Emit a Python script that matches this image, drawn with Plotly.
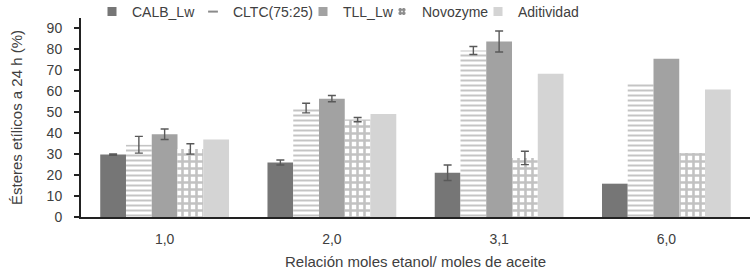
import plotly.graph_objects as go

categories = ["1,0", "2,0", "3,1", "6,0"]
series_names = ["CALB_Lw", "CLTC(75:25)", "TLL_Lw", "Novozyme", "Aditividad"]
calb = [29.8, 26.0, 21.1, 15.9]
cltc = [34.5, 52.0, 79.5, 64.2]
tll = [39.5, 56.5, 83.8, 75.5]
novo = [32.5, 46.5, 28.2, 30.5]
aditiv = [37.0, 49.2, 68.4, 60.9]
# error bars exist only for the first three categories
err_categories = ["1,0", "2,0", "3,1"]
calb_err = [0.3, 1.2, 3.7]
cltc_err = [4.0, 2.3, 1.9]
tll_err = [2.5, 1.5, 5.0]
novo_err = [2.5, 1.0, 3.2]
y_ticks = [0, 10, 20, 30, 40, 50, 60, 70, 80, 90]

FONT = "Liberation Sans, Arial, sans-serif"
TXT = "#404040"
W, H = 752, 270
ML, MR, MT, MB = 81, 2, 18, 53
PW = W - ML - MR
PH = H - MT - MB

err_style = dict(type="data", thickness=1.4, width=4, color="#595959")

series_vals = [calb, cltc, tll, novo, aditiv]
series_errs = [calb_err, cltc_err, tll_err, novo_err, None]
markers = [
    dict(color="#767676", line=dict(width=0)),
    dict(color="#ffffff", line=dict(width=0),
         pattern=dict(shape="-", fgcolor="#8a8a8a", bgcolor="#ffffff", size=5, solidity=0.4)),
    dict(color="#a2a2a2", line=dict(width=0)),
    dict(color="#ffffff", line=dict(width=0),
         pattern=dict(shape="+", fgcolor="#858585", bgcolor="#ffffff", size=7, solidity=0.6)),
    dict(color="#d4d4d4", line=dict(width=0)),
]

fig = go.Figure()
for i, (name, vals, errv, mk) in enumerate(zip(series_names, series_vals, series_errs, markers)):
    fig.add_bar(name=name, x=categories, y=vals, showlegend=False, offsetgroup=str(i), marker=mk)
    if errv is not None:
        fig.add_bar(x=err_categories, y=vals[:len(err_categories)], showlegend=False, offsetgroup=str(i),
                    marker=dict(color="rgba(0,0,0,0)", line=dict(width=0)), hoverinfo="skip",
                    error_y=dict(array=errv, **err_style))

# legend entries (small square markers like the reference), one legend per entry
legend_symbols = [("square", "#767676"), ("line-ew-open", "#8a8a8a"), ("square", "#a2a2a2"),
                  ("hash-open", "#8c8c8c"), ("square", "#d4d4d4")]
legend_text_x = [132, 233, 343, 422, 518]
layout_legends = {}
for i, (name, (sym, col)) in enumerate(zip(series_names, legend_symbols)):
    key = "legend" if i == 0 else f"legend{i + 1}"
    fig.add_scatter(x=[None], y=[None], mode="markers", name=name, legend=key,
                    marker=dict(symbol=sym, color=col, size=7, line=dict(color=col, width=2)))
    layout_legends[key] = dict(
        orientation="h", x=(legend_text_x[i] - 40 - ML) / PW, xanchor="left",
        y=1 + (MT - 12) / PH, yanchor="middle", bgcolor="rgba(0,0,0,0)",
        font=dict(size=14, color=TXT, family=FONT), itemwidth=30)

fig.update_layout(
    width=W, height=H,
    margin=dict(l=ML, r=MR, t=MT, b=MB, autoexpand=False),
    paper_bgcolor="white", plot_bgcolor="white",
    barmode="group", bargap=0.23, bargroupgap=0,
    font=dict(family=FONT, color=TXT, size=14),
    showlegend=True,
    xaxis=dict(showline=True, linecolor="#222222", linewidth=2, ticks="", showgrid=False, automargin=False,
               tickfont=dict(size=14, color=TXT), ticklabelstandoff=8,
               title=dict(text="Relación moles etanol/ moles de aceite", font=dict(size=15, color=TXT))),
    yaxis=dict(range=[0, 95], tickvals=y_ticks, showline=True, linecolor="#222222", linewidth=2, automargin=False,
               ticks="outside", ticklen=5, tickwidth=1.5, tickcolor="#222222", showgrid=False, zeroline=False,
               tickfont=dict(size=14, color=TXT), ticklabelstandoff=9,
               title=dict(text="Ésteres etílicos a 24 h (%)", font=dict(size=15, color=TXT), standoff=20)),
    **layout_legends,
)
fig.write_html("out.html", config={"displayModeBar": False},
               post_script="document.body.style.margin='0';document.body.style.overflow='hidden';")
